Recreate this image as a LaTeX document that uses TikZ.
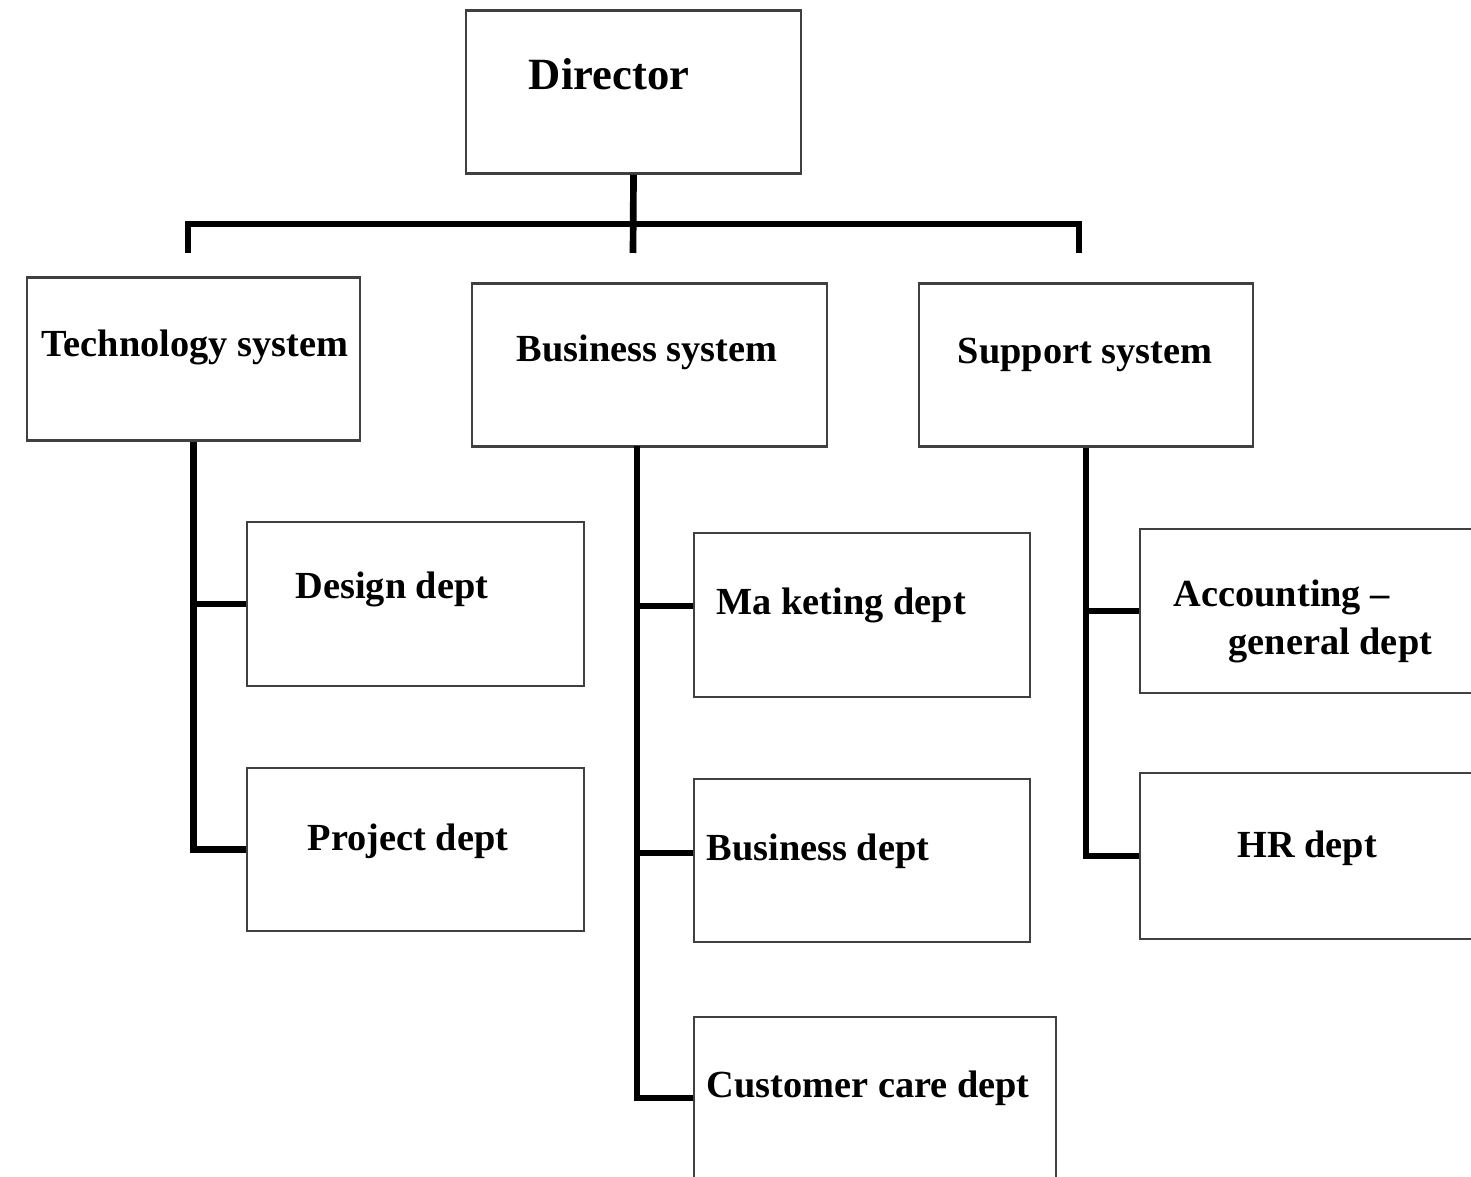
\documentclass[tikz,border=0pt]{standalone}
\usepackage{fontspec}
\setmainfont{Liberation Serif}
\usetikzlibrary{positioning, calc}

\begin{document}
\begin{tikzpicture}[x=0.01cm, y=-0.01cm,
    box/.style={draw=black!75, line width=0.7pt, inner sep=0pt, minimum height=1.63cm},
    lbl/.style={inner sep=0pt, anchor=base, font=\fontsize{10.9}{13}\selectfont\bfseries},
    conn/.style={line width=1.9pt, black}]
\useasboundingbox (0,0) rectangle (1471,1177);
\clip (0,0) rectangle (1471,1177);

% Top level
\node[box, minimum width=3.35cm] (dir) at (633.5,92) {};
\node[lbl, font=\fontsize{12.7}{15}\selectfont\bfseries] (dirT) at (609,90) {Director};

% Systems
\node[box, minimum width=3.33cm] (tech) at (193.5,359) {};
\node[box, minimum width=3.55cm] (bsys) at (649.5,365) {};
\node[box, minimum width=3.34cm] (ssys) at (1086,365) {};
\node[lbl] (techT) at (195,357) {Technology system};
\node[lbl] (bsysT) at (647,362) {Business system};
\node[lbl] (ssysT) at (1085,364) {Support system};

% Departments
\node[box, minimum width=3.37cm, minimum height=1.64cm] (design) at (415.5,604) {};
\node[box, minimum width=3.37cm] (project) at (415.5,849.5) {};
\node[box, minimum width=3.36cm, minimum height=1.64cm] (mkt) at (862,615) {};
\node[box, minimum width=3.36cm] (bdept) at (862,860.5) {};
\node[box, minimum width=3.62cm, minimum height=1.62cm] (care) at (875,1098) {};
\node[box, minimum width=3.35cm, minimum height=1.64cm] (acct) at (1307.5,611) {};
\node[box, minimum width=3.35cm, minimum height=1.66cm] (hr) at (1307.5,856) {};
\node[lbl] (designT) at (392,599) {Design dept};
\node[lbl] (projectT) at (408,850) {Project dept};
\node[lbl, anchor=base west] (mktT) at (716,615) {Ma keting dept};
\node[lbl, anchor=base west] (bdeptT) at (706,860) {Business dept};
\node[lbl, anchor=base west] (careT) at (706,1097) {Customer care dept};
\node[lbl, anchor=base west] (acctT) at (1173,607) {Accounting --};
\node[lbl, anchor=base west] (acctT2) at (1228,655) {general dept};
\node[lbl] (hrT) at (1307,857) {HR dept};

% Bus under the director
\coordinate (busL) at (188,224);
\coordinate (busR) at (1079,224);
\coordinate (dropL) at (188,253);
\coordinate (dropM) at (633,253);
\coordinate (dropR) at (1079,253);
\draw[conn] (dir.south) -- (dropM);
\draw[conn] (dropL) -- (busL) -- (busR) -- (dropR);

% Trunks to the departments
\coordinate (bsTrunk) at (637,446);
\draw[conn] (tech.south) |- (design.west);
\draw[conn] (tech.south) |- (project.west);
\draw[conn] (bsTrunk) |- ([yshift=0.09cm]mkt.west);
\draw[conn] (bsTrunk) |- ([yshift=0.075cm]bdept.west);
\draw[conn] (bsTrunk) |- (care.west);
\draw[conn] (ssys.south) |- (acct.west);
\draw[conn] (ssys.south) |- (hr.west);
\end{tikzpicture}
\end{document}
